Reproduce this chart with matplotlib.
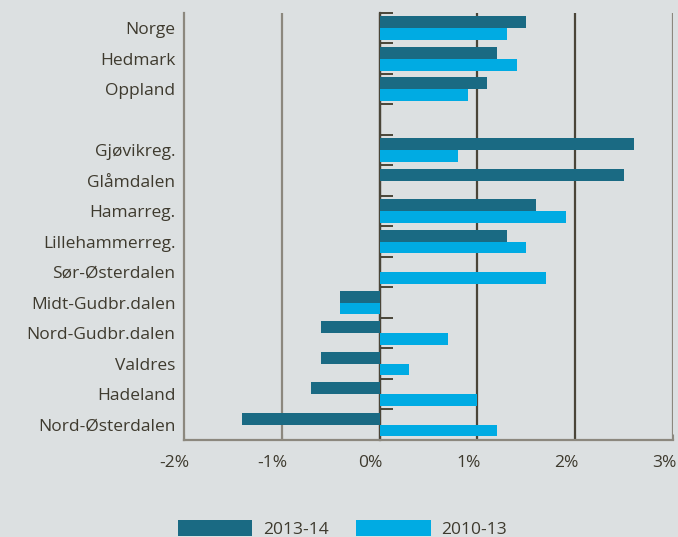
import matplotlib
matplotlib.use("Agg")
import matplotlib.pyplot as plt
import matplotlib.transforms as mtransforms
import numpy as np

categories = ["Norge", "Hedmark", "Oppland",
              "Gjøvikreg.", "Glåmdalen", "Hamarreg.", "Lillehammerreg.",
              "Sør-Østerdalen", "Midt-Gudbr.dalen", "Nord-Gudbr.dalen",
              "Valdres", "Hadeland", "Nord-Østerdalen"]
v2013_14 = [1.5, 1.2, 1.1, 2.6, 2.5, 1.6, 1.3, 0.0, -0.4, -0.6, -0.6, -0.7, -1.4]
v2010_13 = [1.3, 1.4, 0.9, 0.8, 0.0, 1.9, 1.5, 1.7, -0.4, 0.7, 0.3, 1.0, 1.2]
xticks = [-2, -1, 0, 1, 2, 3]
xticklabels = ["-2%", "-1%", "0%", "1%", "2%", "3%"]
series_names = ["2013-14", "2010-13"]

BG = "#dce0e1"
DARK = "#1a6a83"
CYAN = "#00abe3"
TXT = "#3e3a2e"
GRID_LIGHT = "#8c887e"
GRID_DARK = "#4a4538"

plt.rcParams['font.family'] = ['Open Sans', 'DejaVu Sans']

fig = plt.figure(figsize=(6.78, 5.37), dpi=100, facecolor=BG)
ax = fig.add_axes([0.271, 0.181, 0.722, 0.795], facecolor=BG)

pos = np.array([i if i < 3 else i + 1 for i in range(len(categories))], dtype=float)
h = 0.39
ax.barh(pos - h / 2, v2013_14, height=h, color=DARK, label=series_names[0], zorder=3)
ax.barh(pos + h / 2, v2010_13, height=h, color=CYAN, label=series_names[1], zorder=3)

ax.set_xlim(-2, 3)
ax.set_ylim(13.5, -0.5)

grid_cols = {-2: GRID_LIGHT, -1: GRID_LIGHT, 0: GRID_DARK, 1: GRID_DARK, 2: GRID_DARK, 3: GRID_LIGHT}
for t in xticks:
    if t == -2:
        continue
    ax.axvline(t, color=grid_cols[t], lw=1.6, zorder=2)

ax.set_yticks(pos)
ax.set_yticklabels(categories, fontsize=12.5, color=TXT)
ax.tick_params(axis='y', length=0, pad=6)

ax.set_xticks(xticks)
ax.set_xticklabels(xticklabels, fontsize=12.5, color=TXT)
ax.tick_params(axis='x', direction='in', length=4, color=GRID_LIGHT, pad=11)
shift = mtransforms.ScaledTranslation(-9 / 100, 0, fig.dpi_scale_trans)
for lab in ax.get_xticklabels():
    lab.set_transform(lab.get_transform() + shift)

for s in ["top", "right"]:
    ax.spines[s].set_visible(False)
ax.spines["left"].set_color(GRID_LIGHT)
ax.spines["left"].set_linewidth(1.6)
ax.spines["bottom"].set_color(GRID_LIGHT)
ax.spines["bottom"].set_linewidth(1.6)

sec = ax.secondary_yaxis(0.4)
sec.set_yticks(np.arange(-0.5, 14, 1.0))
sec.set_yticklabels([])
sec.tick_params(axis='y', direction='in', length=9, width=1.4, color=GRID_DARK)
sec.spines["left"].set_color(GRID_DARK)
sec.spines["left"].set_linewidth(1.6)

handles, labels = ax.get_legend_handles_labels()
leg = fig.legend(handles, labels, loc='center', bbox_to_anchor=(0.505, 0.015),
                 ncol=2, frameon=False, fontsize=12.5, handlelength=4.3,
                 handleheight=1.1, handletextpad=0.6, columnspacing=1.6)
for t in leg.get_texts():
    t.set_color(TXT)

fig.savefig("out.png", dpi=100, facecolor=BG)
